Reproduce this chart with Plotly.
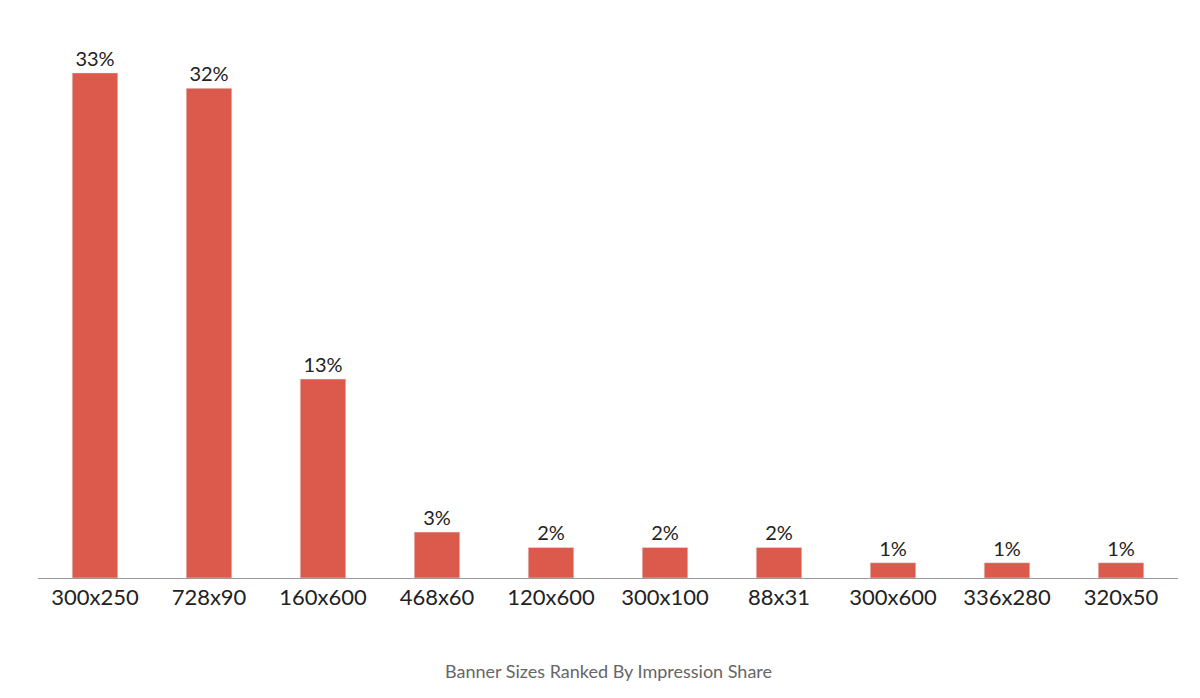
import plotly.graph_objects as go

categories = ["300x250","728x90","160x600","468x60","120x600","300x100","88x31","300x600","336x280","320x50"]
values = [33,32,13,3,2,2,2,1,1,1]
labels = [f"{v}%" for v in values]

fig = go.Figure(go.Bar(
    x=categories, y=values, text=labels, textposition="outside",
    marker_color="#DC5A4C", width=0.4, cliponaxis=False,
    textfont=dict(family="Lato", size=20, color="#222"),
))
fig.update_layout(
    width=1200, height=698, plot_bgcolor="white", paper_bgcolor="white",
    margin=dict(l=30, r=30, t=19, b=128), showlegend=False,
    xaxis=dict(showline=True, linecolor="#999", linewidth=1, ticks="",
               tickfont=dict(family="Lato", size=22, color="#222")),
    yaxis=dict(range=[0,36], visible=False, showgrid=False),
    annotations=[dict(text="Banner Sizes Ranked By Impression Share", x=0.5, y=663,
                      xref="paper", yref="paper", showarrow=False,
                      font=dict(family="Lato", size=18, color="#666"))],
)
fig.layout.annotations[0].update(yref="paper", y=-(663-570)/551, yanchor="middle")
fig.write_html("out.html")
